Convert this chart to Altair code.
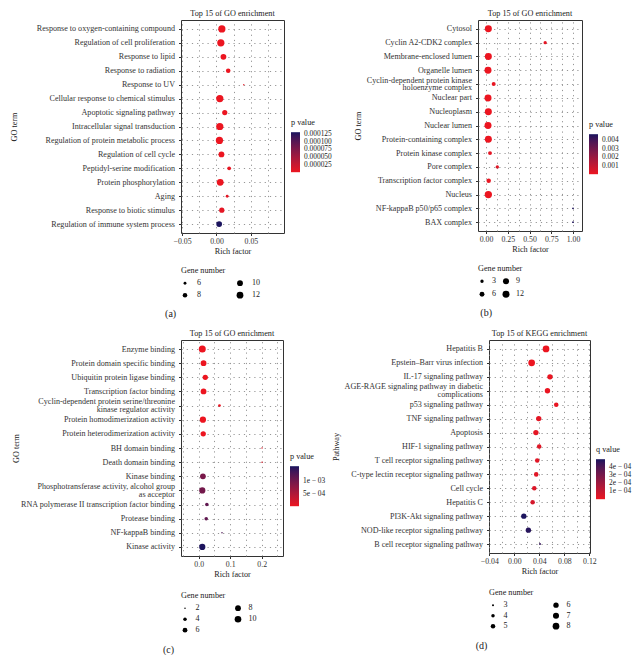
import altair as alt
import pandas as pd

FONT = "Liberation Serif"
LOW_COLOR, HIGH_COLOR = "#ec1520", "#17145e"

# ---------------- panel (a) ----------------
A_TERMS = ["Response to oxygen-containing compound", "Regulation of cell proliferation",
           "Response to lipid", "Response to radiation", "Response to UV",
           "Cellular response to chemical stimulus", "Apoptotic signaling pathway",
           "Intracellular signal transduction", "Regulation of protein metabolic process",
           "Regulation of cell cycle", "Peptidyl-serine modification", "Protein phosphorylation",
           "Aging", "Response to biotic stimulus", "Regulation of immune system process"]
A_RICH = [0.0078, 0.0063, 0.0101, 0.0170, 0.0396, 0.0048, 0.0120, 0.0048, 0.0043,
          0.0072, 0.0184, 0.0054, 0.0155, 0.0077, 0.0039]
A_GENES = [13, 13, 10, 8, 5, 13, 9, 13, 13, 10, 7, 12, 6, 9, 10]
A_P = [2e-8, 4e-8, 1e-7, 3e-7, 3e-6, 3e-8, 8e-7, 5e-8, 6e-8, 2e-7, 4e-6, 6e-7, 6e-6,
       5e-6, 1.31e-4]
A_XTICKS = [-0.05, 0.0, 0.05]
A_XMINOR = [-0.025, 0.025, 0.075]
A_LEG_VALUES = [0.000025, 0.00005, 0.000075, 0.0001, 0.000125]
A_LEG_LABELS = ["0.000025", "0.000050", "0.000075", "0.000100", "0.000125"]
A_GENE_BREAKS = [6, 8, 10, 12]

# ---------------- panel (b) ----------------
B_TERMS = ["Cytosol", "Cyclin A2-CDK2 complex", "Membrane-enclosed lumen", "Organelle lumen",
           "Cyclin-dependent protein kinase\nholoenzyme complex", "Nuclear part", "Nucleoplasm",
           "Nuclear lumen", "Protein-containing complex", "Protein kinase complex",
           "Pore complex", "Transcription factor complex", "Nucleus",
           "NF-kappaB p50/p65 complex", "BAX complex"]
B_RICH = [0.027, 0.68, 0.027, 0.023, 0.088, 0.023, 0.027, 0.023, 0.027, 0.046, 0.13,
          0.031, 0.027, 1.0, 1.0]
B_GENES = [12, 3, 12, 12, 4, 12, 12, 12, 12, 4, 3, 5, 13, 1, 1]
B_P = [1e-7, 2e-4, 2e-7, 2e-7, 1e-4, 3e-7, 4e-7, 4e-7, 5e-7, 2e-4, 3e-4, 1e-4, 1e-6,
       4.6e-3, 4.6e-3]
B_XTICKS = [0.0, 0.25, 0.5, 0.75, 1.0]
B_XMINOR = [0.125, 0.375, 0.625, 0.875]
B_LEG_VALUES = [0.001, 0.002, 0.003, 0.004]
B_LEG_LABELS = ["0.001", "0.002", "0.003", "0.004"]
B_GENE_BREAKS = [3, 6, 9, 12]

# ---------------- panel (c) ----------------
C_TERMS = ["Enzyme binding", "Protein domain specific binding", "Ubiquitin protein ligase binding",
           "Transcription factor binding",
           "Cyclin-dependent protein serine/threonine\nkinase regulator activity",
           "Protein homodimerization activity", "Protein heterodimerization activity",
           "BH domain binding", "Death domain binding", "Kinase binding",
           "Phosphotransferase activity, alcohol group\nas acceptor",
           "RNA polymerase II transcription factor binding", "Protease binding",
           "NF-kappaB binding", "Kinase activity"]
C_RICH = [0.0115, 0.0155, 0.021, 0.0155, 0.066, 0.0135, 0.0145, 0.201, 0.201, 0.0135,
          0.0115, 0.026, 0.024, 0.074, 0.0115]
C_GENES = [11, 8, 7, 8, 3, 9, 7, 2, 2, 8, 9, 4, 4, 2, 9]
C_P = [1e-7, 5e-7, 1e-6, 2e-6, 3e-5, 3e-6, 4e-6, 1e-4, 1e-4, 9.5e-4, 1.0e-3, 1.15e-3,
       1.15e-3, 1.3e-3, 1.58e-3]
C_XTICKS = [0.0, 0.1, 0.2]
C_XMINOR = [-0.05, 0.05, 0.15, 0.25]
C_LEG_VALUES = [0.0005, 0.001]
C_LEG_LABELS = ["5e − 04", "1e − 03"]
C_GENE_BREAKS = [2, 4, 6, 8, 10]

# ---------------- panel (d) ----------------
D_TERMS = ["Hepatitis B", "Epstein–Barr virus infection", "IL-17 signaling pathway",
           "AGE-RAGE signaling pathway in diabetic\ncomplications", "p53 signaling pathway",
           "TNF signaling pathway", "Apoptosis", "HIF-1 signaling pathway",
           "T cell receptor signaling pathway", "C-type lectin receptor signaling pathway",
           "Cell cycle", "Hepatitis C", "PI3K-Akt signaling pathway",
           "NOD-like receptor signaling pathway", "B cell receptor signaling pathway"]
D_RICH = [0.0507, 0.0277, 0.057, 0.053, 0.067, 0.039, 0.0345, 0.0397, 0.0366, 0.035,
          0.0319, 0.0293, 0.0152, 0.0225, 0.041]
D_GENES = [8, 8, 6, 6, 5, 6, 6, 5, 5, 5, 5, 5, 6, 6, 3]
D_Q = [2e-6, 1e-6, 5e-6, 5e-6, 1e-5, 2e-5, 2e-5, 3e-5, 3e-5, 3e-5, 4e-5, 6e-5, 4.95e-4,
       4.8e-4, 4.6e-4]
D_XTICKS = [-0.04, 0.0, 0.04, 0.08, 0.12]
D_XMINOR = [-0.02, 0.02, 0.06, 0.10]
D_LEG_VALUES = [0.0001, 0.0002, 0.0003, 0.0004]
D_LEG_LABELS = ["1e − 04", "2e − 04", "3e − 04", "4e − 04"]
D_GENE_BREAKS = [3, 4, 5, 6, 7, 8]


def label_expr(values, labels):
    tol = (values[1] - values[0]) / 10.0
    expr = ""
    for v, l in zip(values, labels):
        expr += f"abs(datum.value - {v!r}) < {tol!r} ? '{l}' : "
    return expr + "datum.label"


def panel(terms, rich, genes, pv, cfg):
    df = pd.DataFrame({"term": terms, "rich": rich, "genes": genes, "pv": pv})
    majors = "[" + ", ".join(repr(v) for v in cfg["major"]) + "]"
    is_major = f"indexof({majors}, datum.value) >= 0"
    xs = alt.Scale(domain=cfg["xdomain"], nice=False, zero=False)
    pts = alt.Chart(df).mark_circle(opacity=1).encode(
        x=alt.X("rich:Q", scale=xs,
                axis=alt.Axis(values=sorted(cfg["major"] + cfg["minor"]), format=cfg["fmt"],
                              labelExpr=f"{is_major} ? datum.label : ''",
                              tickOpacity={"condition": {"test": is_major, "value": 1},
                                           "value": 0},
                              title="Rich factor", grid=True, domain=False, tickSize=2.5,
                              labelPadding=1.5, titlePadding=3, labelFlush=False,
                              labelOverlap=False)),
        y=alt.Y("term:N", sort=terms, scale=alt.Scale(padding=0.64),
                axis=alt.Axis(title=cfg["ytitle"], labelExpr="split(datum.label, '\\n')",
                              labelOffset={"condition": {"test": "indexof(datum.value, '\\n') >= 0",
                                                         "value": -3.9}, "value": 0},
                              grid=True, domain=False, tickSize=2.5, labelPadding=4,
                              titlePadding=cfg["ytp"], labelLimit=400, labelLineHeight=7.8,
                              labelFontSize=8.1)),
        color=alt.Color("pv:Q",
                        scale=alt.Scale(domain=cfg["cdomain"], range=[LOW_COLOR, HIGH_COLOR],
                                        interpolate="lab"),
                        legend=alt.Legend(title=cfg["ctitle"], orient="none",
                                          legendX=cfg["w"] + cfg["cx"], legendY=cfg["cy"],
                                          direction="vertical", values=cfg["cvals"],
                                          labelExpr=label_expr(cfg["cvals"], cfg["clabels"]),
                                          gradientLength=40, gradientThickness=9,
                                          gradientStrokeWidth=0, titlePadding=5,
                                          labelOffset=4, labelFontSize=7.4,
                                          labelOverlap=False)),
        size=alt.Size("genes:Q",
                      scale=alt.Scale(domain=cfg["sdomain"], range=cfg["srange"], zero=False),
                      legend=alt.Legend(title="Gene number", orient="none", legendX=0,
                                        legendY=cfg["h"] + cfg["sy"], direction="vertical",
                                        values=cfg["svals"], columns=2,
                                        columnPadding=cfg["cp"], rowPadding=cfg["rp"],
                                        labelOffset=cfg["lo"], symbolFillColor="black",
                                        symbolStrokeWidth=0, symbolOpacity=1,
                                        symbolType="circle", titlePadding=4)),
    ).properties(
        width=cfg["w"], height=cfg["h"],
        title=alt.TitleParams(cfg["title"], anchor="middle", frame="group", fontSize=8.2,
                              offset=1.5))
    return alt.vconcat(
        pts,
        title=alt.TitleParams(cfg["caption"], orient="bottom", anchor="middle",
                              frame="bounds", fontSize=10, offset=cfg["co"])
    ).resolve_scale(color="independent", size="independent").resolve_legend(
        color="independent", size="independent")


pa = panel(A_TERMS, A_RICH, A_GENES, A_P, dict(
    w=103, h=213, xdomain=[-0.0515, 0.098], major=A_XTICKS, minor=A_XMINOR, fmt=".2f",
    ytitle="GO term", ytp=18, title="Top 15 of GO enrichment", ctitle="p value",
    cdomain=[0, 0.000132], cvals=A_LEG_VALUES, clabels=A_LEG_LABELS, cx=7, cy=99,
    sdomain=[5, 13], srange=[2, 52], svals=A_GENE_BREAKS, cp=35, rp=4, lo=8, co=8, sy=34,
    caption="(a)"))

pb = panel(B_TERMS, B_RICH, B_GENES, B_P, dict(
    w=104, h=211, xdomain=[-0.092, 1.103], major=B_XTICKS, minor=B_XMINOR, fmt=".2f",
    ytitle="GO term", ytp=4, title="Top 15 of GO enrichment", ctitle="p value",
    cdomain=[0, 0.0047], cvals=B_LEG_VALUES, clabels=B_LEG_LABELS, cx=7, cy=101,
    sdomain=[1, 13], srange=[3, 53], svals=B_GENE_BREAKS, cp=6, rp=5, lo=6, co=8, sy=34,
    caption="(b)"))

pc = panel(C_TERMS, C_RICH, C_GENES, C_P, dict(
    w=102, h=216, xdomain=[-0.056, 0.2675], major=C_XTICKS, minor=C_XMINOR, fmt=".1f",
    ytitle="GO term", ytp=0, title="Top 15 of GO enrichment", ctitle="p value",
    cdomain=[0, 0.0016], cvals=C_LEG_VALUES, clabels=C_LEG_LABELS, cx=7, cy=113,
    sdomain=[2, 11], srange=[2.2, 49], svals=C_GENE_BREAKS, cp=34, rp=3, lo=6.5, co=9,
    sy=36, caption="(c)"))

pd_ = panel(D_TERMS, D_RICH, D_GENES, D_Q, dict(
    w=101, h=213, xdomain=[-0.0405, 0.121], major=D_XTICKS, minor=D_XMINOR, fmt=".2f",
    ytitle="Pathway", ytp=4, title="Top 15 of KEGG enrichment", ctitle="q value",
    cdomain=[0, 0.0005], cvals=D_LEG_VALUES, clabels=D_LEG_LABELS, cx=6, cy=106,
    sdomain=[3, 8], srange=[4, 45], svals=D_GENE_BREAKS, cp=44, rp=2.5, lo=6.6, co=9,
    sy=36, caption="(d)"))

indep = dict(x="independent", y="independent", color="independent", size="independent")

row1 = alt.hconcat(pa, pb, spacing=19).resolve_scale(**indep).resolve_legend(
    color="independent", size="independent")
row2 = alt.hconcat(pc, pd_, spacing=3).resolve_scale(**indep).resolve_legend(
    color="independent", size="independent")

chart = alt.vconcat(row1, row2, spacing=9).resolve_scale(**indep).resolve_legend(
    color="independent", size="independent").properties(padding=0).configure(
    font=FONT
).configure_view(
    stroke="#333333", strokeWidth=1
).configure_axis(
    labelFont=FONT, titleFont=FONT, labelFontSize=7.8, titleFontSize=8.2,
    labelColor="#333333", titleColor="#222222", tickColor="#333333",
    titleFontWeight="normal", gridColor="#8a8a8a", gridDash=[1.2, 4], gridWidth=0.9
).configure_legend(
    labelFont=FONT, titleFont=FONT, labelFontSize=8, titleFontSize=8.2,
    labelColor="#222222", titleColor="#222222", titleFontWeight="normal"
).configure_title(
    font=FONT, fontWeight="normal", color="#222222"
)

chart.save("out.html", embed_options={"renderer": "svg", "actions": False})
